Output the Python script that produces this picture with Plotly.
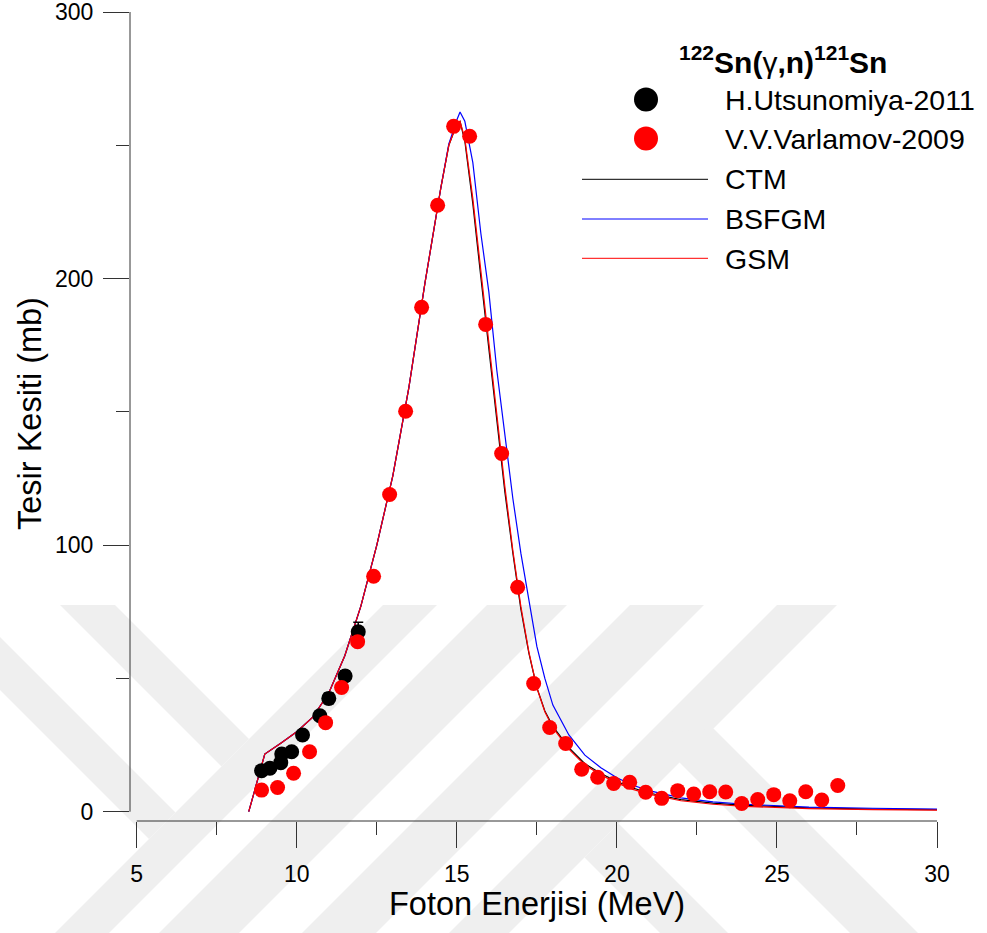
import plotly.graph_objects as go

# ---- 122Sn(gamma,n)121Sn photoneutron cross section -------------------------
# Experimental data (photon energy in MeV, cross section in mb)
utsunomiya_energy = [8.90, 9.16, 9.50, 9.53, 9.84, 10.18, 10.72, 11.00, 11.51, 11.92]
utsunomiya_xs = [15.4, 16.3, 18.4, 21.6, 22.5, 28.8, 36.0, 42.5, 50.9, 67.5]
utsunomiya_err = [1.0, 1.0, 1.0, 1.0, 1.0, 1.5, 1.5, 2.0, 2.0, 3.6]

varlamov_energy = [8.9, 9.4, 9.9, 10.4, 10.9, 11.4, 11.9, 12.4, 12.9, 13.4,
                   13.9, 14.4, 14.9, 15.4, 15.9, 16.4, 16.9, 17.4, 17.9, 18.4,
                   18.9, 19.4, 19.9, 20.4, 20.9, 21.4, 21.9, 22.4, 22.9, 23.4,
                   23.9, 24.4, 24.9, 25.4, 25.9, 26.4, 26.9]
varlamov_xs = [8.1, 9.1, 14.4, 22.5, 33.4, 46.6, 63.8, 88.3, 119.0, 150.2,
               189.2, 227.5, 257.1, 253.4, 182.8, 134.4, 84.2, 48.1, 31.6, 25.6,
               15.9, 12.9, 10.6, 11.0, 7.3, 5.0, 7.9, 6.6, 7.5, 7.4,
               3.1, 4.6, 6.4, 4.1, 7.5, 4.4, 9.8]

# Model calculations (level density models)
model_energy = [8.5, 9.0, 9.5, 10.0, 10.5, 11.0, 11.5, 12.0, 12.5, 13.0,
                13.5, 14.0, 14.5, 14.75, 15.0, 15.1, 15.25, 15.5, 15.75, 16.0,
                16.25, 16.5, 16.75, 17.0, 17.25, 17.5, 17.75, 18.0, 18.5, 19.0,
                19.5, 20.0, 20.5, 21.0, 22.0, 23.0, 24.0, 25.0, 26.0, 28.0, 30.0]
ctm_xs = [0.0, 21.6, 25.7, 30.0, 35.5, 44.5, 58.5, 77.0, 100.0, 126.0,
          159.0, 198.0, 234.0, 250.0, 258.0, 259.0, 251.5, 228.0, 200.5, 173.0,
          146.0, 120.0, 97.0, 76.0, 59.5, 46.5, 37.8, 32.0, 24.0, 18.0,
          14.3, 11.3, 8.9, 7.0, 4.5, 3.2, 2.4, 1.8, 1.45, 1.0, 0.75]
bsfgm_xs = [0.0, 21.6, 25.7, 30.0, 35.5, 44.5, 58.5, 77.0, 100.0, 126.0,
            159.0, 198.0, 234.0, 250.5, 259.5, 262.5, 259.0, 243.5, 217.0, 195.0,
            165.5, 140.5, 117.5, 97.0, 79.0, 62.0, 50.0, 40.0, 28.8, 21.2,
            16.5, 12.7, 9.9, 7.9, 5.2, 3.7, 2.8, 2.2, 1.7, 1.3, 1.0]
gsm_xs = [0.0, 21.6, 25.7, 30.0, 35.5, 44.5, 58.5, 77.0, 100.0, 126.0,
          159.0, 198.0, 234.0, 250.0, 258.0, 259.0, 252.5, 230.0, 203.0, 176.0,
          148.0, 122.0, 98.0, 77.0, 60.0, 46.5, 37.5, 31.5, 23.5, 17.5,
          13.8, 10.8, 8.4, 6.6, 4.1, 2.8, 2.0, 1.5, 1.15, 0.8, 0.6]

x_ticks = [5, 10, 15, 20, 25, 30]
y_ticks = [0, 100, 200, 300]

legend_title = "<b><sup>122</sup>Sn(</b>γ<b>,n)<sup>121</sup>Sn</b>"
series_names = ["H.Utsunomiya-2011", "V.V.Varlamov-2009", "CTM", "BSFGM", "GSM"]

# ---- page geometry -----------------------------------------------------------
FONT = "Liberation Sans, Arial, Helvetica, sans-serif"
W, H = 987, 933
ML, MR, MT, MB = 130, 50, 12, 112
X_RANGE = [4.79, 30]
Y_RANGE = [-3.49, 300]
AXIS_COLOR = "#333333"


def fx(xp):
    """page pixel x -> paper x"""
    return (xp - ML) / (W - ML - MR)


def fy(yp):
    """page pixel y -> paper y"""
    return (H - MB - yp) / (H - MT - MB)


fig = go.Figure()

model_styles = {"CTM": "#000000", "BSFGM": "#0000ff", "GSM": "#ff0000"}
for name, ys in zip(["CTM", "BSFGM", "GSM"], [ctm_xs, bsfgm_xs, gsm_xs]):
    fig.add_trace(go.Scatter(
        x=model_energy, y=ys, mode="lines", name=name,
        line=dict(color=model_styles[name], width=1.2),
        showlegend=False, hoverinfo="x+y+name"))

fig.add_trace(go.Scatter(
    x=utsunomiya_energy, y=utsunomiya_xs, mode="markers", name=series_names[0],
    marker=dict(color="#000000", size=15, line=dict(width=0)),
    error_y=dict(type="data", array=utsunomiya_err, color="#000000",
                 thickness=1.5, width=5),
    showlegend=False))
fig.add_trace(go.Scatter(
    x=varlamov_energy, y=varlamov_xs, mode="markers", name=series_names[1],
    marker=dict(color="#ff0000", size=15, line=dict(width=0)),
    showlegend=False))

shapes = []

# faint background emblem made of diagonal bands
emblem_color = "#efefef"
emblem_bands = [
    [(60, 605), (115, 605), (249, 739), (221.5, 766.5)],
    [(-10, 627), (175.5, 812.5), (149, 839), (-10, 680)],
    [(383, 605), (437, 605), (109, 933), (55, 933)],
    [(487, 605), (567, 605), (239, 933), (159, 933)],
    [(630, 605), (704, 605), (376, 933), (302, 933)],
    [(777, 605), (837, 605), (509, 933), (449, 933)],
    [(649.5, 732.5), (713.5, 728.5), (918, 933), (850, 933)],
    [(584.5, 857.5), (618.5, 823.5), (728, 933), (660, 933)],
]
for band in emblem_bands:
    path = "M " + " L ".join(f"{fx(a):.5f},{fy(b):.5f}" for a, b in band) + " Z"
    shapes.append(dict(type="path", xref="paper", yref="paper", path=path,
                       fillcolor=emblem_color, line=dict(width=0), layer="below"))

# detached axis lines
shapes.append(dict(type="line", xref="x", yref="paper", x0=x_ticks[0], x1=x_ticks[-1],
                   y0=0, y1=0, line=dict(color=AXIS_COLOR, width=1)))
shapes.append(dict(type="line", xref="paper", yref="y", x0=0, x1=0,
                   y0=y_ticks[0], y1=y_ticks[-1], line=dict(color=AXIS_COLOR, width=1)))

# legend symbols
marker_rows = [(99.5, "#000000"), (138.5, "#ff0000")]
for yp, col in marker_rows:
    shapes.append(dict(type="circle", xref="paper", yref="paper",
                       xsizemode="pixel", ysizemode="pixel",
                       xanchor=fx(646), yanchor=fy(yp),
                       x0=-12, x1=12, y0=-12, y1=12,
                       fillcolor=col, line=dict(width=0)))
line_rows = [(179.3, "#000000"), (219.0, "#0000ff"), (258.3, "#ff0000")]
for yp, col in line_rows:
    shapes.append(dict(type="line", xref="paper", yref="paper",
                       x0=fx(582), x1=fx(708), y0=fy(yp), y1=fy(yp),
                       line=dict(color=col, width=1)))

annotations = [
    dict(text=legend_title, x=fx(783), y=fy(60), xref="paper", yref="paper",
         xanchor="center", yanchor="middle", showarrow=False,
         font=dict(family=FONT, size=30, color="#000000")),
    dict(text="Foton Enerjisi (MeV)", x=fx(536.5), y=fy(904), xref="paper", yref="paper",
         xanchor="center", yanchor="middle", showarrow=False,
         font=dict(family=FONT, size=32.5, color="#000000")),
    dict(text="Tesir Kesiti (mb)", x=fx(30), y=fy(414), xref="paper", yref="paper",
         xanchor="center", yanchor="middle", showarrow=False, textangle=-90,
         font=dict(family=FONT, size=32.5, color="#000000")),
]
for name, yp in zip(series_names, [100.3, 138.8, 179.2, 219.5, 259.2]):
    annotations.append(dict(text=name, x=fx(723), y=fy(yp), xref="paper", yref="paper",
                            xanchor="left", yanchor="middle", showarrow=False,
                            font=dict(family=FONT, size=28.5, color="#000000")))

fig.update_xaxes(
    range=X_RANGE, showgrid=False, zeroline=False, showline=False, automargin=False,
    tickmode="array", tickvals=x_ticks, ticktext=[str(v) for v in x_ticks],
    ticks="outside", ticklen=26, tickwidth=1, tickcolor=AXIS_COLOR,
    minor=dict(tick0=0, dtick=2.5, ticks="outside", ticklen=13, tickwidth=1,
               tickcolor=AXIS_COLOR, showgrid=False),
    tickfont=dict(family=FONT, size=23, color="#000000"), ticklabelstandoff=6,
    ticklabeloverflow="allow")
fig.update_yaxes(
    range=Y_RANGE, showgrid=False, zeroline=False, showline=False, automargin=False,
    tickmode="array", tickvals=y_ticks, ticktext=[str(v) for v in y_ticks],
    ticks="outside", ticklen=26, tickwidth=1, tickcolor=AXIS_COLOR,
    minor=dict(tick0=0, dtick=50, ticks="outside", ticklen=13, tickwidth=1,
               tickcolor=AXIS_COLOR, showgrid=False),
    tickfont=dict(family=FONT, size=23, color="#000000"), ticklabelstandoff=5,
    ticklabeloverflow="allow")

fig.update_layout(
    width=W, height=H, autosize=False,
    margin=dict(l=ML, r=MR, t=MT, b=MB, pad=0, autoexpand=False),
    paper_bgcolor="#ffffff", plot_bgcolor="rgba(0,0,0,0)",
    showlegend=False, shapes=shapes, annotations=annotations,
    font=dict(family=FONT, color="#000000"))

fig.write_html("out.html")
